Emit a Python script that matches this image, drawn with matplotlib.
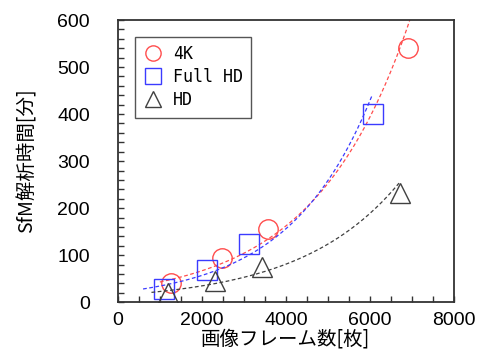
import numpy as np
import matplotlib.pyplot as plt
from matplotlib.ticker import MultipleLocator

# 画像フレーム数 と SfM解析時間[分]
frames_4k = [1260, 2470, 3580, 6910]
time_4k = [40, 93, 156, 541]
frames_fhd = [1100, 2130, 3120, 6080]
time_fhd = [29, 68, 124, 400]
frames_hd = [1200, 2310, 3420, 6710]
time_hd = [20, 45, 75, 232]

# 近似曲線(指数)の描画範囲
trend_4k = (1000, 7300)
trend_fhd = (600, 6060)
trend_hd = (800, 6690)

labels = ["4K", "Full HD", "HD"]

JP = ["Noto Sans CJK JP", "DejaVu Sans"]


def exp_trend(x, y, x_range):
    b, a = np.polyfit(x, np.log(y), 1)
    xs = np.linspace(x_range[0], x_range[1], 200)
    return xs, np.exp(a + b * xs)


fig = plt.figure(figsize=(4.81, 3.58), dpi=100)
ax = fig.add_axes([0.245, 0.156, 0.699, 0.788])

series = [
    (frames_4k, time_4k, trend_4k, "o", "#ff4d4d"),
    (frames_fhd, time_fhd, trend_fhd, "s", "#3b3bff"),
    (frames_hd, time_hd, trend_hd, "^", "#404040"),
]
for (x, y, rng, m, c), lab in zip(series, labels):
    xs, ys = exp_trend(x, y, rng)
    ax.plot(xs, ys, ls=(0, (3, 2)), color=c, lw=0.9)
    ax.plot(x, y, ls="none", marker=m, ms=14, mfc="none", mec=c, mew=1.0,
            label=lab)

ax.set_xlim(0, 8000)
ax.set_ylim(0, 600)
ax.xaxis.set_major_locator(MultipleLocator(2000))
ax.xaxis.set_minor_locator(MultipleLocator(500))
ax.yaxis.set_major_locator(MultipleLocator(100))
ax.yaxis.set_minor_locator(MultipleLocator(20))
ax.tick_params(which="both", direction="in", length=4, width=1,
               top=False, right=False, color="#333333")
ax.tick_params(axis="x", which="major", pad=7)
ax.tick_params(axis="y", which="major", pad=20)
for lab in ax.get_xticklabels() + ax.get_yticklabels():
    lab.set_family("Liberation Sans")
    lab.set_fontsize(14)
for s in ax.spines.values():
    s.set_linewidth(1.3)
    s.set_color("#333333")

ax.set_xlabel("画像フレーム数[枚]", family=JP, fontsize=14, labelpad=0)
ax.set_ylabel("SfM解析時間[分]", family=JP, fontsize=14, labelpad=14)

leg = ax.legend(loc="upper left", bbox_to_anchor=(0.025, 0.97),
                prop={"family": "DejaVu Sans Mono", "size": 12},
                fancybox=False, framealpha=1, edgecolor="#555555",
                handletextpad=0.6, borderpad=0.5, labelspacing=0.3,
                handlelength=1.2)
leg.get_frame().set_linewidth(1.0)
for h in leg.legend_handles:
    h.set_markersize(11)

fig.savefig("out.png", dpi=100)
